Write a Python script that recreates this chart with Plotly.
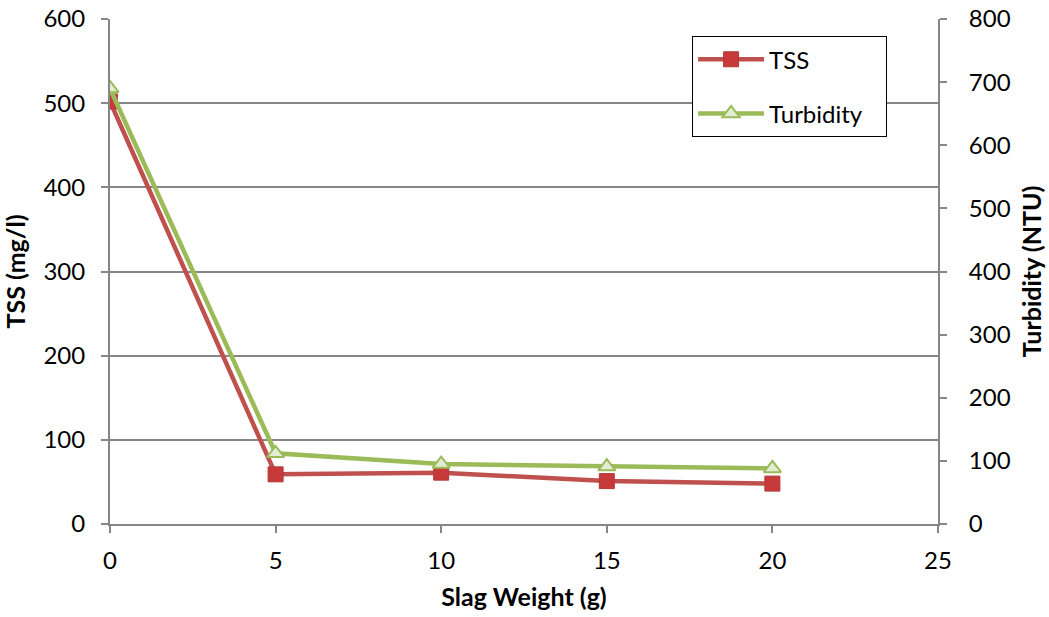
import plotly.graph_objects as go

# Slag dose (g) and resulting water quality
slag_weight = [0, 5, 10, 15, 20]
tss = [502, 59, 61, 51, 48]            # mg/l
turbidity = [690, 112, 95, 91, 88]     # NTU

FONT = "Lato"
AX_GRAY = "#868686"
PAD = "\u00a0\u00a0\u00a0"  # right padding inside the legend box

fig = go.Figure()

fig.add_trace(go.Scatter(
    x=slag_weight, y=tss, name="TSS" + PAD, mode="lines+markers",
    line=dict(color="#C0504D", width=4.5),
    marker=dict(symbol="square", size=15, color="#C8393A",
                line=dict(color="#B03A37", width=1)),
    legendgroup="a", yaxis="y",
))

fig.add_trace(go.Scatter(
    x=slag_weight, y=turbidity, name="Turbidity" + PAD, mode="lines+markers",
    line=dict(color="#9BBB59", width=4.5),
    marker=dict(symbol="triangle-up", size=15, color="#E3EDD3",
                line=dict(color="#9BBB59", width=2)),
    legendgroup="b", yaxis="y2",
))

tick_font = dict(family=FONT, size=24, color="#000000")
title_font = dict(family=FONT, size=25, color="#000000")

axis_common = dict(
    showline=True, linecolor=AX_GRAY, linewidth=2,
    ticks="outside", ticklen=7, tickcolor=AX_GRAY, tickwidth=2,
    zeroline=False, tickfont=tick_font, automargin=False,
)

fig.update_layout(
    width=1049, height=617,
    margin=dict(l=110, r=111, t=19, b=93),
    paper_bgcolor="white", plot_bgcolor="white",
    font=dict(family=FONT, size=24, color="#000000"),
    xaxis=dict(
        range=[0, 25], dtick=5, tick0=0, showgrid=False,
        ticklabelstandoff=7,
        title=dict(text="<b>Slag Weight (g)</b>", font=title_font, standoff=16),
        **axis_common,
    ),
    yaxis=dict(
        range=[0, 600], dtick=100,
        showgrid=True, gridcolor=AX_GRAY, gridwidth=2,
        ticklabelstandoff=11,
        title=dict(text="<b>TSS (mg/l)</b>", font=title_font, standoff=12),
        **axis_common,
    ),
    yaxis2=dict(
        range=[0, 800], dtick=100, overlaying="y", side="right",
        showgrid=False, ticklabelstandoff=17,
        title=dict(text="<b>Turbidity (NTU)</b>", font=title_font, standoff=14),
        **axis_common,
    ),
    legend=dict(
        x=0.703, y=0.966, xanchor="left", yanchor="top",
        bgcolor="white", bordercolor="#000000", borderwidth=1,
        font=dict(family=FONT, size=24, color="#000000"),
        traceorder="grouped", tracegroupgap=20,
        itemwidth=66,
    ),
    showlegend=True,
)

fig.write_html("out.html")
